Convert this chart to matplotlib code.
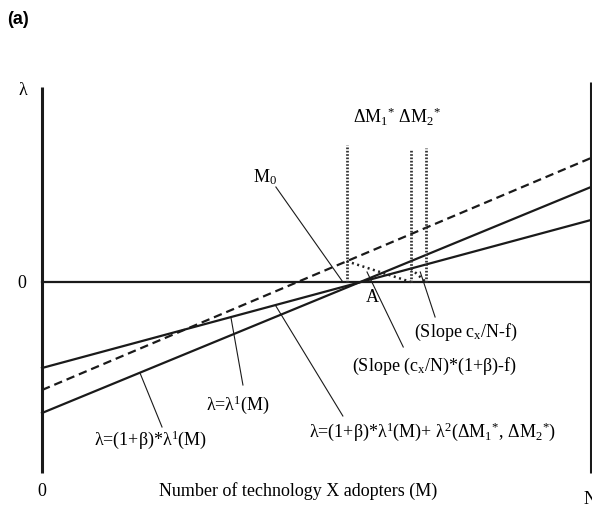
import matplotlib
matplotlib.use("Agg")
import matplotlib.pyplot as plt
import numpy as np

plt.rcParams['font.family'] = ['Liberation Serif', 'DejaVu Serif']
plt.rcParams['mathtext.fontset'] = 'custom'
plt.rcParams['mathtext.rm'] = 'Liberation Serif'
plt.rcParams['mathtext.it'] = 'Liberation Serif'
plt.rcParams['mathtext.default'] = 'rm'

# Adopters run from 0 to N (N = 100 here)
M_ends = [0, 100]

# lambda values at M = 0 and M = N for each curve
lam1 = [-0.86, 0.62]          # lambda = lambda^1(M)
lam_beta = [-1.31, 0.95]      # lambda = (1+beta)*lambda^1(M)
lam_full = [-1.08, 1.24]      # lambda = (1+beta)*lambda^1(M) + lambda^2(...)
lam_zero = [0.0, 0.0]

# Critical mass positions dM1*, dM2* and their marker tops
dM1 = 55.5
dM2 = 67.2
dM2b = 69.9
vline_top = [1.37, 1.33, 1.34]

axis_bottom = -1.91
axis_top_left = 1.95
axis_top_right = 2.0


def value_at(line, m):
    return np.interp(m, M_ends, line)


fig = plt.figure(figsize=(5.92, 5.07), dpi=100)
ax = fig.add_axes([0, 0, 1, 1])
ax.set_xlim(-7.65, 100.18)
ax.set_ylim(-2.25, 2.82)
ax.axis('off')

k = '#1a1a1a'

# axes drawn as plain thick lines
ax.plot([0, 0], [axis_bottom, axis_top_left], color=k, lw=2.2, solid_capstyle='butt')
ax.plot([100, 100], [axis_bottom, axis_top_right], color=k, lw=2.2, solid_capstyle='butt')

# the three curves and the zero line
ax.plot(M_ends, lam_zero, color=k, lw=1.6)
ax.plot(M_ends, lam1, color=k, lw=1.6)
ax.plot(M_ends, lam_beta, color=k, lw=1.6)
ax.plot(M_ends, lam_full, color=k, lw=1.6, dashes=(3.8, 2.2))

# vertical dotted markers at dM1*, dM2*
for m, top in zip([dM1, dM2, dM2b], vline_top):
    ax.plot([m, m], [0, top], color='#333333', lw=2.0, linestyle=(0, (0.6, 0.6)))

# dotted slope segments
ax.plot([dM1, dM2], [value_at(lam_full, dM1), 0], color='#222222', lw=1.8, linestyle=(0, (0.8, 1.4)))
ax.plot([dM2, dM2b], [value_at(lam1, dM2), 0], color='#222222', lw=1.8, linestyle=(0, (0.8, 1.4)))

# leader lines for the labels
leaders = [
    ([42.6, 54.8], [0.95, 0.0]),     # M0
    ([34.4, 36.6], [-0.35, -1.03]),  # lambda^1
    ([17.85, 21.86], [-0.91, -1.45]),  # (1+beta) lambda^1
    ([42.6, 54.8], [-0.24, -1.34]),  # full lambda
    ([59.2, 65.8], [0.10, -0.65]),   # slope (cx/N)(1+beta)-f
    ([68.9, 71.6], [0.10, -0.35]),   # slope cx/N-f
]
for xs, ys in leaders:
    ax.plot(xs, ys, color=k, lw=0.8)

fs = 13
ax.text(-3.46, 1.92, 'λ', fontsize=fs, ha='center', va='center')
ax.text(-3.64, -0.01, '0', fontsize=fs, ha='center', va='center')
ax.text(0, -2.09, '0', fontsize=fs, ha='center', va='center')
ax.text(98.7, -2.18, 'N', fontsize=fs, ha='left', va='center')
ax.text(46.6, -2.09, 'Number of technology X adopters (M)', fontsize=fs,
        ha='center', va='center')

ax.text(64.7, 1.65, r'ΔM$_{1}{}^{*}$ ΔM$_{2}{}^{*}$', fontsize=fs,
        ha='center', va='center')
ax.text(40.6, 1.05, r'M$_0$', fontsize=fs, ha='center', va='center')
ax.text(60.1, -0.16, 'A', fontsize=fs, ha='center', va='center')
ax.text(77.2, -0.50, r'(Slope c$_x$/N-f)', fontsize=fs,
        ha='center', va='center')
ax.text(71.4, -0.84, r'(Slope (c$_x$/N)*(1+β)-f)', fontsize=fs,
        ha='center', va='center')
ax.text(35.6, -1.23, r'λ=λ$^1$(M)', fontsize=fs,
        ha='center', va='center')
ax.text(19.7, -1.58, r'λ=(1+β)*λ$^1$(M)', fontsize=fs,
        ha='center', va='center')
ax.text(71.2, -1.50,
        r'λ=(1+β)*λ$^1$(M)+ λ$^2$(ΔM$_{1}{}^{*}$, ΔM$_{2}{}^{*}$)',
        fontsize=fs, ha='center', va='center')

fig.text(7 / 592, 1 - 19 / 507, '(a)', fontsize=13, fontweight='bold',
         family='Liberation Sans', ha='left', va='center')

fig.savefig('out.png', dpi=100)
